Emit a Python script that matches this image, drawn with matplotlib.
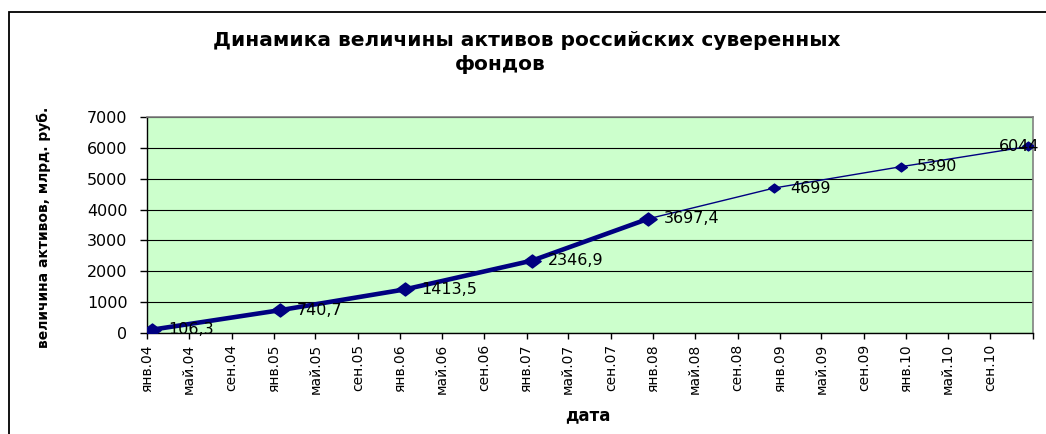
import matplotlib
matplotlib.use("Agg")
import matplotlib.pyplot as plt
import matplotlib.dates as mdates
from matplotlib.patches import Rectangle
from matplotlib.transforms import offset_copy
from datetime import date

# ---- data ----
dates_all = [date(2004, 1, 15), date(2005, 1, 20), date(2006, 1, 15), date(2007, 1, 17),
             date(2007, 12, 17), date(2008, 12, 16), date(2009, 12, 17), date(2010, 12, 19)]
values_all = [106.3, 740.7, 1413.5, 2346.9, 3697.4, 4699, 5390, 6044]
value_labels = ["106,3", "740,7", "1413,5", "2346,9", "3697,4", "4699", "5390", "6044"]
n_thick = 5  # first segment (stabilization fund) drawn thick

tick_dates = [date(y, m, 1) for y in range(2004, 2011) for m in (1, 5, 9)] + [date(2011, 1, 1)]
tick_labels = ["янв.04", "май.04", "сен.04", "янв.05", "май.05", "сен.05",
               "янв.06", "май.06", "сен.06", "янв.07", "май.07", "сен.07",
               "янв.08", "май.08", "сен.08", "янв.09", "май.09", "сен.09",
               "янв.10", "май.10", "сен.10", ""]
y_ticks = [0, 1000, 2000, 3000, 4000, 5000, 6000, 7000]

title_lines = ["Динамика величины активов российских суверенных", "фондов"]
ylabel = "величина активов, млрд. руб."
xlabel = "дата"

# ---- style ----
plt.rcParams['font.family'] = ['DejaVu Sans']
navy = "#000080"
W, H = 1046, 434
fig = plt.figure(figsize=(W / 100, H / 100), dpi=100)
fig.patch.set_facecolor("white")

ax = fig.add_axes([147 / W, 1 - 333 / H, (1032.7 - 147) / W, (333 - 117) / H])
ax.set_facecolor("#CCFFCC")

x_num = mdates.date2num(dates_all)
diamond = [(-1, 0), (0, 0.75), (1, 0), (0, -0.75), (-1, 0)]

ax.plot(x_num[:n_thick], values_all[:n_thick], color=navy, lw=3.3,
        marker=diamond, ms=12.5, markerfacecolor=navy, markeredgecolor=navy, zorder=4)
ax.plot(x_num[n_thick - 1:], values_all[n_thick - 1:], color=navy, lw=1.0, zorder=3)
ax.plot(x_num[n_thick:], values_all[n_thick:], color=navy, lw=0,
        marker=diamond, ms=8.5, markerfacecolor=navy, markeredgecolor=navy, zorder=4)

for i, (xv, yv, lab) in enumerate(zip(x_num, values_all, value_labels)):
    dx = 16 if i < len(values_all) - 1 else -29
    tr = offset_copy(ax.transData, fig=fig, x=dx * 0.72, y=0, units='points')
    ax.text(xv, yv, lab, transform=tr, ha="left", va="center", fontsize=11.5,
            color="black", zorder=5)

ax.set_xlim(mdates.date2num(date(2004, 1, 1)), mdates.date2num(date(2011, 1, 1)))
ax.set_ylim(0, 7000)
ax.set_yticks(y_ticks)
ax.set_yticklabels([str(v) for v in y_ticks], fontsize=11.5)
ax.set_xticks(mdates.date2num(tick_dates))
ax.set_xticklabels(tick_labels, rotation=90, fontsize=10, va="top", ha="center")
ax.tick_params(axis="y", direction="out", length=5, width=1, pad=9, colors="black")
ax.tick_params(axis="x", direction="out", length=4, width=1, pad=4, colors="black")

ax.grid(axis="y", color="black", lw=0.8, zorder=1)
ax.set_axisbelow(True)
for s in ("left", "bottom"):
    ax.spines[s].set_color("black")
    ax.spines[s].set_linewidth(1.0)
for s in ("top", "right"):
    ax.spines[s].set_color("#808080")
    ax.spines[s].set_linewidth(1.2)

fig.text(527 / W, 1 - 40 / H, title_lines[0], ha="center", va="center", fontsize=14.5,
         fontweight="bold")
fig.text(500 / W, 1 - 64 / H, title_lines[1], ha="center", va="center", fontsize=14.5,
         fontweight="bold")
fig.text(44 / W, 1 - 227 / H, ylabel, rotation=90, ha="center", va="center",
         fontsize=10, fontweight="bold")
fig.text(588 / W, 1 - 415 / H, xlabel, ha="center", va="center", fontsize=12,
         fontweight="bold")

# outer chart border (cropped: only top and left visible)
fig.add_artist(Rectangle((9 / W, -0.2), 2.0, 1.2 - 12 / H, transform=fig.transFigure,
                         fill=False, edgecolor="black", lw=1.3))

fig.savefig("out.png", dpi=100)
